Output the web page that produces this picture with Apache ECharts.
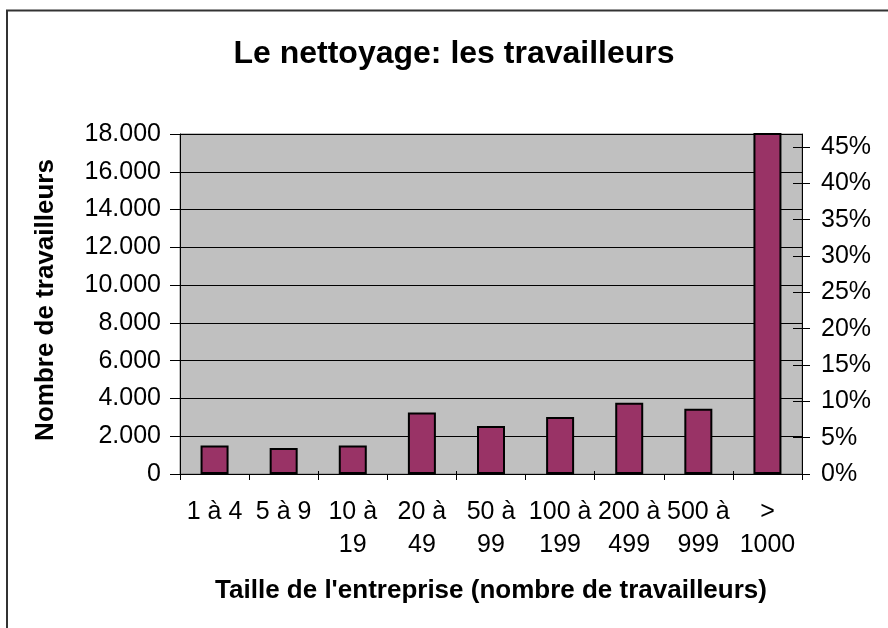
<!DOCTYPE html>
<html>
<head>
    <meta charset="utf-8">
    <title>Le nettoyage: les travailleurs</title>
    <script src="https://cdn.jsdelivr.net/npm/echarts@6/dist/echarts.min.js"></script>
    <style>
        html, body { margin: 0; padding: 0; background: #fff; }
    </style>
</head>
<body>
    <div id="main" style="width: 888px;height:628px;"></div>
    <script type="text/javascript">
        // tailles d'entreprise et nombre de travailleurs
        var categories = ['1 à 4', '5 à 9', '10 à 19', '20 à 49', '50 à 99', '100 à 199', '200 à 499', '500 à 999', '> 1000'];
        var travailleurs = [1510, 1370, 1510, 3250, 2540, 3020, 3770, 3450, 18050];

        var leftMax = 18000;
        var leftStep = 2000;
        var total = 0;
        for (var i = 0; i < travailleurs.length; i++) total += travailleurs[i];
        // l'axe de droite donne la part du total
        var rightMax = leftMax / total;

        var font = 'Liberation Sans, Arial, sans-serif';

        function milliers(v) {
            return String(v).replace(/\B(?=(\d{3})+(?!\d))/g, '.');
        }
        // retour a la ligne comme dans Excel : au dernier espace si trop long
        function coupe(s) {
            if (s.length <= 5) return s;
            var k = s.lastIndexOf(' ');
            return s.slice(0, k) + '\n' + s.slice(k + 1);
        }

        var myChart = echarts.init(document.getElementById('main'));

        var option = {
            backgroundColor: '#fff',
            animation: false,
            title: {
                text: 'Le nettoyage: les travailleurs',
                left: 449,
                top: 33,
                textAlign: 'center',
                textStyle: { fontFamily: font, fontSize: 32, fontWeight: 'bold', color: '#000' }
            },
            graphic: [{
                type: 'rect',
                shape: { x: 7, y: 10.5, width: 1000, height: 1000 },
                style: { fill: 'none', stroke: '#333', lineWidth: 2 },
                silent: true
            }],
            grid: {
                left: 180, right: 86, top: 134, bottom: 154,
                show: true,
                backgroundColor: '#c0c0c0',
                borderColor: '#808080',
                borderWidth: 1
            },
            xAxis: [{
                type: 'category',
                data: categories,
                name: "Taille de l'entreprise (nombre de travailleurs)",
                nameLocation: 'middle',
                nameGap: 104,
                nameTextStyle: { fontFamily: font, fontSize: 26, fontWeight: 'bold', color: '#000' },
                axisLine: { lineStyle: { color: '#000', width: 1 } },
                axisTick: { show: true, length: 6, lineStyle: { color: '#000' } },
                axisLabel: {
                    interval: 0,
                    margin: 22,
                    lineHeight: 33,
                    formatter: coupe,
                    fontFamily: font, fontSize: 25, color: '#000'
                }
            }, {
                type: 'category',
                data: categories,
                position: 'bottom',
                axisLine: { show: false },
                axisTick: { show: true, inside: true, length: 3, lineStyle: { color: '#000' } },
                axisLabel: { show: false }
            }],
            yAxis: [{
                type: 'value',
                min: 0, max: leftMax, interval: leftStep,
                name: 'Nombre de travailleurs',
                nameLocation: 'middle',
                nameRotate: 90,
                nameGap: 121,
                nameTextStyle: { fontFamily: font, fontSize: 26, fontWeight: 'bold', color: '#000', padding: [0, 0, 0, 8] },
                axisLine: { show: true, lineStyle: { color: '#000' } },
                axisTick: { show: true, length: 10, lineStyle: { color: '#000' } },
                splitLine: { show: true, lineStyle: { color: '#000', width: 1 } },
                axisLabel: {
                    margin: 19,
                    formatter: milliers,
                    fontFamily: font, fontSize: 25, color: '#000'
                }
            }, {
                type: 'value',
                position: 'right',
                min: 0, max: rightMax, interval: 0.05,
                axisLine: { show: true, lineStyle: { color: '#000' } },
                axisTick: { show: true, length: 8, lineStyle: { color: '#000' } },
                splitLine: { show: false },
                axisLabel: {
                    margin: 19,
                    showMaxLabel: false,
                    formatter: function (v) { return Math.round(v * 100) + '%'; },
                    fontFamily: font, fontSize: 25, color: '#000'
                }
            }, {
                type: 'value',
                position: 'right',
                min: 0, max: rightMax, interval: 0.05,
                axisLine: { show: false },
                axisTick: { show: true, inside: true, length: 9, lineStyle: { color: '#000' } },
                splitLine: { show: false },
                axisLabel: { show: false }
            }],
            series: [{
                name: 'Nombre de travailleurs',
                type: 'bar',
                xAxisIndex: 0,
                yAxisIndex: 0,
                barWidth: 28,
                data: travailleurs,
                itemStyle: {
                    color: '#993366',
                    borderColor: '#000',
                    borderWidth: 2
                }
            }]
        };

        myChart.setOption(option);
    </script>
</body>
</html>
